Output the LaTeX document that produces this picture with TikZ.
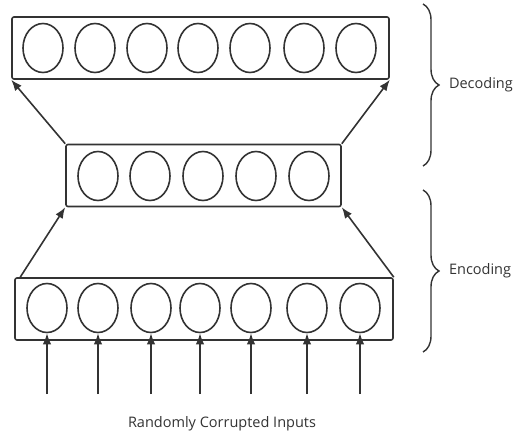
\documentclass[tikz,border=0pt]{standalone}
\usepackage{fontspec}
\setmainfont{Open Sans}
\usetikzlibrary{shapes.geometric,arrows.meta,decorations.pathreplacing}

\begin{document}
\begin{tikzpicture}[x=1pt,y=-1pt,line width=1.6pt,draw=black!80,
        -{Latex[length=11pt,width=8.5pt]}]
        \tikzstyle{neuron}=[
            ellipse,draw,minimum width=40pt,minimum height=49pt,inner sep=0pt,-
        ]
        \tikzstyle{layer}=[
            rectangle,draw,rounded corners=2pt,minimum height=62pt,inner sep=0pt,-
        ]
        \tikzstyle{brace}=[-,line width=1.4pt,decorate,decoration={brace,amplitude=16pt}]
        \tikzstyle{annot}=[anchor=west,text=black!80,font=\fontsize{14.5}{16}\selectfont]

        \useasboundingbox (0,0) rectangle (517,436);

        % Draw the layer boxes
        \node[layer,minimum width=377pt] (top) at (200.5,48) {};
        \node[layer,minimum width=275pt] (mid) at (203.5,175.5) {};
        \node[layer,minimum width=378pt] (bot) at (204,309) {};

        % Draw the neurons of each layer
        \foreach \x [count=\id] in {43,95,147,198,250,304,356}
            \node[neuron] (T-\id) at (\x,48) {};
        \foreach \x [count=\id] in {98,150,203,256,309}
            \node[neuron] (M-\id) at (\x,176) {};
        \foreach \x [count=\id] in {47,98,151,200,251,307,360}
            \node[neuron] (B-\id) at (\x,308) {};

        % Corrupted inputs into the bottom layer
        \foreach \id in {1,...,7} {
            \coordinate (I-\id) at (B-\id |- 0,394);
            \draw (I-\id) -- (B-\id.south);
        }

        % Connect the layers
        \draw ([xshift=6pt]bot.north west) -- (mid.south west);
        \draw (bot.north east) -- (mid.south east);
        \draw (mid.north west) -- (top.south west);
        \draw (mid.north east) -- (top.south east);

        % Annotate the layers
        \coordinate (dec-a) at (423,4);
        \coordinate (dec-b) at (423,166);
        \coordinate (enc-a) at (423,190);
        \coordinate (enc-b) at (423,352);
        \draw[brace] (dec-a) -- (dec-b) node[annot,midway,xshift=22pt] (dec) {Decoding};
        \draw[brace] (enc-a) -- (enc-b) node[annot,midway,xshift=22pt] (enc) {Encoding};
        \node[annot,anchor=center] (inp) at (222,424) {Randomly Corrupted Inputs};
    \end{tikzpicture}
\end{document}
